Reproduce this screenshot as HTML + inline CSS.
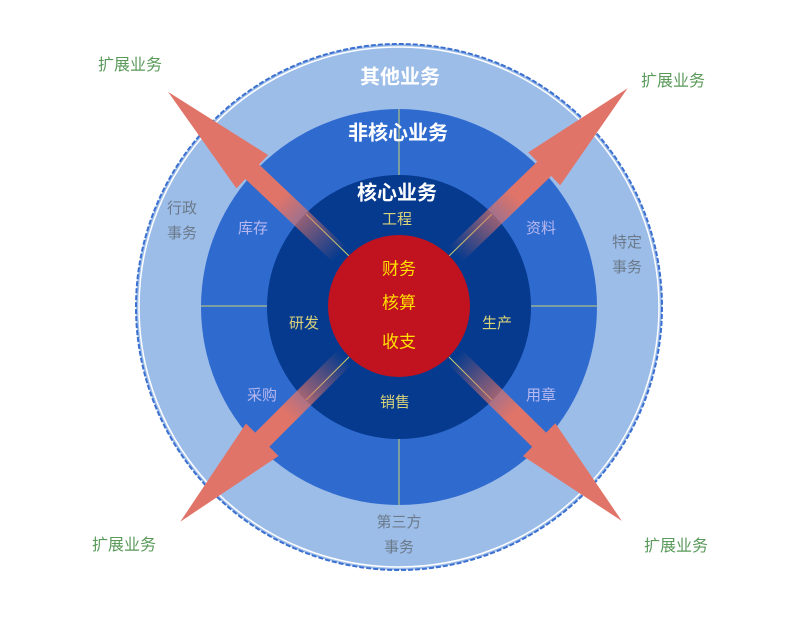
<!DOCTYPE html>
<html><head><meta charset="utf-8"><style>
html,body{margin:0;padding:0;background:#fff;}
svg{display:block;}
text{font-family:"Liberation Sans","Noto Sans CJK SC",sans-serif;text-anchor:middle;dominant-baseline:middle;}
</style></head><body>
<svg width="804" height="637" viewBox="0 0 804 637" xmlns="http://www.w3.org/2000/svg">
<defs>
<linearGradient id="ag" x1="0" y1="0" x2="1" y2="0">
<stop offset="0" stop-color="#e07468" stop-opacity="0"/>
<stop offset="0.35" stop-color="#e07468" stop-opacity="1"/>
<stop offset="1" stop-color="#e07468" stop-opacity="1"/>
</linearGradient>
</defs>
<circle cx="399" cy="307" r="263" fill="#9dbde9" stroke="#3b6fd0" stroke-width="2" stroke-dasharray="5 2"/>
<circle cx="399" cy="307" r="260" fill="none" stroke="#ffffff" stroke-width="1.5"/>
<circle cx="399" cy="307" r="198" fill="#2f6bcf"/>
<circle cx="399" cy="307" r="132" fill="#063a8e"/>
<g stroke="#c8d070" stroke-width="1">
<line x1="399" y1="109" x2="399" y2="175"/>
<line x1="399" y1="439" x2="399" y2="505"/>
<line x1="201" y1="306" x2="267" y2="306"/>
<line x1="531" y1="306" x2="597" y2="306"/>
<line x1="349" y1="256" x2="306" y2="214"/>
<line x1="449" y1="256" x2="492" y2="214"/>
<line x1="349" y1="357" x2="306" y2="400"/>
<line x1="449" y1="357" x2="492" y2="400"/>
</g>
<g fill="url(#ag)">
<g transform="translate(340,255) rotate(-136.5)"><polygon points="0,-10 121,-10 121,-23 237,0 121,23 121,10 0,10"/></g>
<g transform="translate(455,255) rotate(-44)"><polygon points="0,-10 124,-10 124,-23 240,0 124,23 124,10 0,10"/></g>
<g transform="translate(345,357) rotate(135)"><polygon points="0,-10 117,-10 117,-23 233,0 117,23 117,10 0,10"/></g>
<g transform="translate(455,357) rotate(44.5)"><polygon points="0,-10 118,-10 118,-23 234,0 118,23 118,10 0,10"/></g>
</g>
<circle cx="399" cy="306" r="71" fill="#c1121f"/>
<g fill="#ffffff" font-weight="bold" font-size="20">
<text x="400" y="78">其他业务</text>
<text x="398" y="134">非核心业务</text>
<text x="397" y="194">核心业务</text>
</g>
<g fill="#d8d27a" font-size="15">
<text x="397" y="220">工程</text>
<text x="304" y="324">研发</text>
<text x="497" y="324">生产</text>
<text x="395" y="403">销售</text>
</g>
<g fill="#b8b8f0" font-size="15">
<text x="541" y="229">资料</text>
<text x="253" y="229">库存</text>
<text x="262" y="396">采购</text>
<text x="541" y="396">用章</text>
</g>
<g fill="#6a7a8a" font-size="15">
<text x="182" y="209">行政</text><text x="182" y="234">事务</text>
<text x="627" y="243">特定</text><text x="627" y="268">事务</text>
<text x="399" y="523">第三方</text><text x="399" y="548">事务</text>
</g>
<g fill="#ffe000" font-size="17">
<text x="399" y="270">财务</text>
<text x="399" y="304">核算</text>
<text x="399" y="343">收支</text>
</g>
<g fill="#5a9a5a" font-size="16">
<text x="130" y="66">扩展业务</text>
<text x="673" y="82">扩展业务</text>
<text x="124" y="546">扩展业务</text>
<text x="676" y="547">扩展业务</text>
</g>
</svg>
</body></html>
